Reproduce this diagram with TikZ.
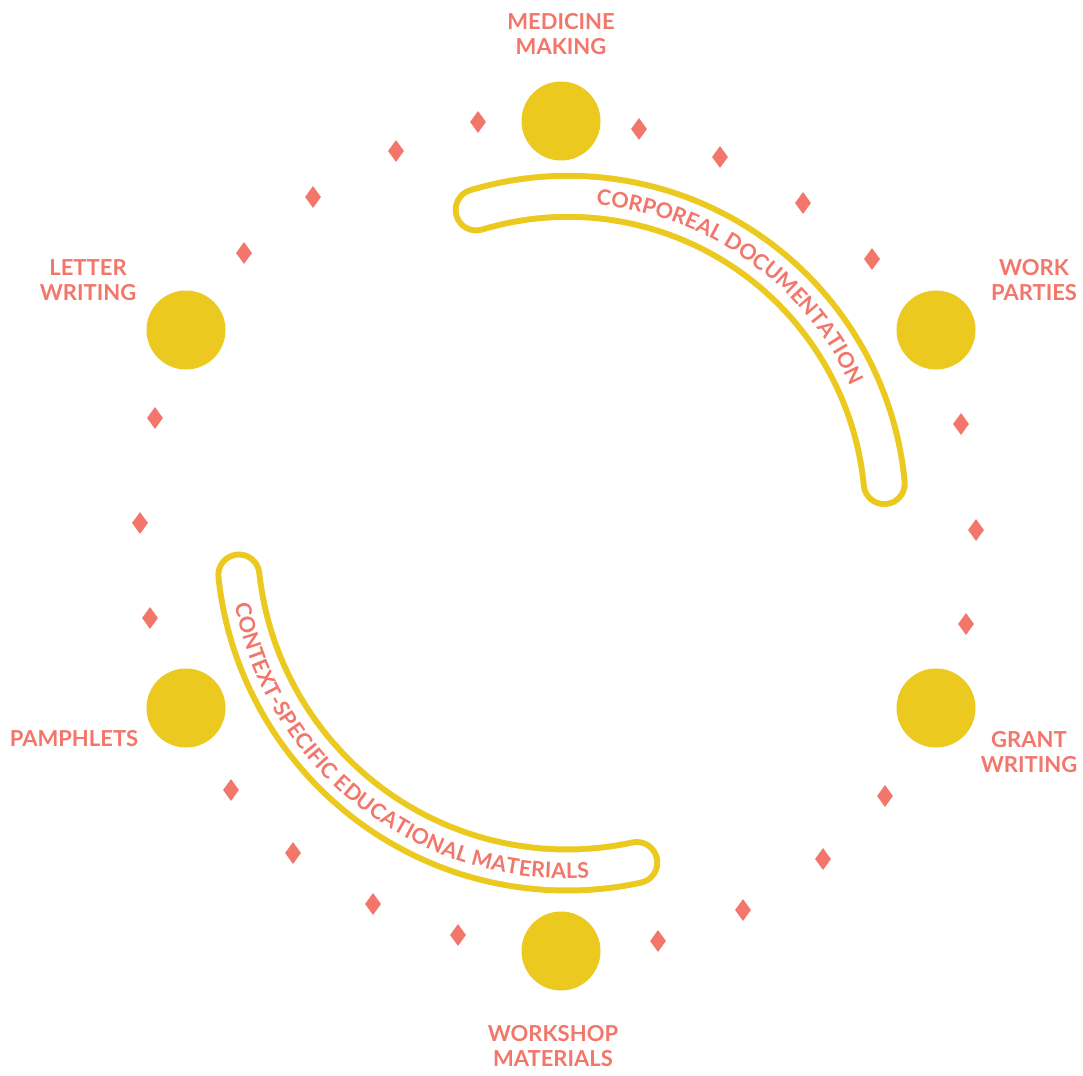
\documentclass[tikz,border=0pt]{standalone}
\usepackage{fontspec}
\setmainfont{Lato}
\usetikzlibrary{decorations.text,shapes.geometric}
\definecolor{hubyellow}{RGB}{235,201,30}
\definecolor{salmon}{RGB}{243,118,106}
\newcommand\lblfont{\fontsize{22}{25}\selectfont\bfseries}
\newcommand\bandfont{\fontsize{21.5}{24}\selectfont\bfseries}
\begin{document}
\begin{tikzpicture}[x=1pt,y=1pt,
  hub/.style={circle,fill=hubyellow,minimum size=79pt,inner sep=0pt},
  gem/.style={diamond,fill=salmon,minimum width=16pt,minimum height=22pt,inner sep=0pt},
  lab/.style={text=salmon,font=\lblfont,align=center,inner sep=0pt},
  bandout/.style={hubyellow,line width=47pt,line cap=round},
  bandin/.style={white,line width=35pt,line cap=round}
]
\useasboundingbox[fill=white] (0,0) rectangle (1083,-1075);

% bands
\draw[bandout] (568,-514) ++(106.8:317.7) arc[start angle=106.8,end angle=5.5,radius=317.7];
\draw[bandin]  (568,-514) ++(106.8:317.7) arc[start angle=106.8,end angle=5.5,radius=317.7];
\draw[bandout] (567,-540) ++(186.1:330) arc[start angle=186.1,end angle=282.2,radius=330];
\draw[bandin]  (567,-540) ++(186.1:330) arc[start angle=186.1,end angle=282.2,radius=330];

\path[decorate,decoration={text along path,text align={fit to path},
   text={|\bandfont\color{salmon}|CORPOREAL DOCUMENTATION}}]
   (568,-514) ++(84.8:310.5) arc[start angle=84.8,end angle=25.2,radius=310.5];
\path[decorate,decoration={text along path,text align={fit to path},
   text={|\bandfont\color{salmon}|CONTEXT-SPECIFIC EDUCATIONAL MATERIALS}}]
   (567,-540) ++(191.0:338.5) arc[start angle=191.0,end angle=273.7,radius=338.5];

% hubs
\node[hub] (medicine)  at (561,-121) {};
\node[hub] (work)      at (936,-330) {};
\node[hub] (grant)     at (936,-708) {};
\node[hub] (workshop)  at (561,-951) {};
\node[hub] (pamphlets) at (186,-708) {};
\node[hub] (letter)    at (186,-330) {};

% labels
\node[lab] (lmedicine)  at (561,-34)   {MEDICINE\\MAKING};
\node[lab] (lwork)      at (1034,-280) {WORK\\PARTIES};
\node[lab] (lgrant)     at (1029,-752) {GRANT\\WRITING};
\node[lab] (lworkshop)  at (553,-1046) {WORKSHOP\\MATERIALS};
\node[lab] (lpamphlets) at (74,-739)   {PAMPHLETS};
\node[lab] (lletter)    at (88,-280)   {LETTER\\WRITING};

% diamonds
\foreach \x/\y [count=\i] in {478/122,396/151,313/197,244/253,155/418,140/523,150/618,
  231/790,293/853,373/904,458/935,658/941,743/910,823/859,885/796,966/624,976/530,
  961/424,872/259,803/203,720/157,639/129}
  \node[gem] (d\i) at (\x,-\y) {};
\end{tikzpicture}
\end{document}
